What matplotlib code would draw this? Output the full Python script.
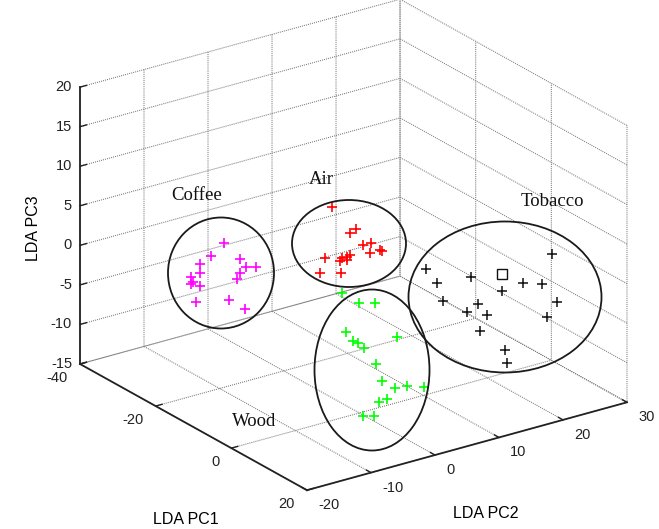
import matplotlib
matplotlib.use("Agg")
import matplotlib.pyplot as plt
from matplotlib.patches import Ellipse
from matplotlib.ticker import NullFormatter
from mpl_toolkits.mplot3d import proj3d

# ---------------- data ----------------
coffee_pc1 = [-30] * 16
coffee_pc2 = [-3.4, -5.4, -0.9, -7.2, 0.0, 1.6, -7.2, -0.9, -8.6, -1.4, -8.3, -8.6, -7.2, -7.8, -2.6, -0.1]
coffee_pc3 = [-0.75, -1.9, -3.3, -2.6, -4.5, -4.9, -3.7, -5.1, -3.9, -5.75, -4.6, -4.8, -5.35, -7.2, -8.1, -9.8]

air_pc1 = [-20] * 16
air_pc2 = [7.55, 11.3, 10.4, 12.4, 13.65, 15.05, 13.5, 15.4, 6.5, 9.1, 9.9, 10.4, 8.8, 5.7, 9.0, 9.9]
air_pc3 = [4.0, 0.4, 0.1, -1.9, -1.9, -3.0, -3.1, -3.3, -2.2, -2.8, -2.8, -2.7, -3.1, -3.9, -4.6, -3.2]

tobacco_pc1 = [5] * 16
tobacco_pc2 = [7.5, 14.5, 9.2, 19.3, 22.6, 25.6, 27.2, 10.1, 15.6, 27.9, 13.9, 17.0, 26.4, 15.9, 19.8, 20.1]
tobacco_pc3 = [2.8, 0.3, 0.7, -2.5, -2.2, -3.1, 0.35, -1.7, -3.3, -5.8, -4.0, -5.1, -7.4, -6.9, -10.1, -11.85]

unknown_pc1 = [5]
unknown_pc2 = [19.3]
unknown_pc3 = [-0.4]

wood_pc1 = [5] * 17
wood_pc2 = [-5.7, -3.0, -0.5, -5.0, -3.9, -3.2, -2.2, 2.9, -0.3, 0.6, 2.6, 4.5, 7.2, 0.1, 1.4, -2.4, -0.7]
wood_pc3 = [2.7, 0.9, 0.3, -2.3, -3.7, -4.15, -5.0, -4.75, -7.4, -9.7, -11.1, -11.3, -12.0, -12.3, -12.2, -13.55, -13.9]

pc1_ticks = [-40, -20, 0, 20]
pc2_ticks = [-20, -10, 0, 10, 20, 30]
pc3_ticks = [-15, -10, -5, 0, 5, 10, 15, 20]

cluster_names = ["Coffee", "Air", "Tobacco", "Wood"]

# ---------------- figure ----------------
plt.rcParams["font.family"] = ["Liberation Sans", "DejaVu Sans"]
plt.rcParams["axes.unicode_minus"] = False
W, H = 659, 529
fig = plt.figure(figsize=(W / 100, H / 100), dpi=100)
fig.patch.set_facecolor("white")

ax = fig.add_axes([0, 0, 1, 1], projection="3d")
ax.set_proj_type("ortho")
ax.view_init(elev=23.0, azim=-35.1)
ax.set_box_aspect((1, 0.991, 0.762))
ax.set_xlim(-40, 20)
ax.set_ylim(-20, 30)
ax.set_zlim(-15, 20)
ax.set_xticks(pc1_ticks)
ax.set_yticks(pc2_ticks)
ax.set_zticks(pc3_ticks)
ax.zaxis.set_ticks_position("lower")
ax.zaxis.set_label_position("lower")

for axis in (ax.xaxis, ax.yaxis, ax.zaxis):
    axis.set_major_formatter(NullFormatter())
    axis.set_pane_color((1, 1, 1, 0))
    axis.pane.set_edgecolor((1, 1, 1, 0))
    axis._axinfo["grid"].update(color="#7a7a7a", linestyle=(0, (1.0, 1.0)), linewidth=0.75)
    axis._axinfo["tick"].update(inward_factor=0.0, outward_factor=0.25)
    axis._axinfo["tick"]["linewidth"] = {True: 1.0, False: 0.6}
    axis.line.set_color("#222222")
    axis.line.set_linewidth(1.3)
    for t in axis.get_major_ticks():
        t.tick1line.set_color("#222222")
        t.label1.set_visible(False)
        t.label2.set_visible(False)

# markers
ax.plot(coffee_pc1, coffee_pc2, coffee_pc3, "+", color="#ff00ff", ms=7.5, mew=1.2)
ax.plot(air_pc1, air_pc2, air_pc3, "+", color="#ff0000", ms=7.5, mew=1.2)
ax.plot(wood_pc1, wood_pc2, wood_pc3, "+", color="#00ff00", ms=7.5, mew=1.2)
ax.plot(tobacco_pc1, tobacco_pc2, tobacco_pc3, "+", color="#111111", ms=7.5, mew=1.1)
ax.plot(unknown_pc1, unknown_pc2, unknown_pc3, "s", mfc="none", mec="#111111", ms=7, mew=1.0)

# --- fit the projected box to the layout of the reference ---
fig.canvas.draw()


def to_px(x, y, z):
    xs, ys, _ = proj3d.proj_transform(x, y, z, ax.M)
    return ax.transData.transform((xs, ys))


A = to_px(-40, -20, -15)
C = to_px(20, 30, -15)
A_t = (80.0, H - 364.0)
C_t = (627.0, H - 402.0)
k = (C_t[0] - A_t[0]) / (C[0] - A[0])
bb = ax.get_position().transformed(fig.transFigure)
s0 = bb.width
c0 = ((bb.x0 + bb.x1) / 2, (bb.y0 + bb.y1) / 2)
s = k * s0
cx = A_t[0] - k * (A[0] - c0[0])
cy = A_t[1] - k * (A[1] - c0[1])
ax.set_position([(cx - s / 2) / W, (cy - s / 2) / H, s / W, s / H])
fig.canvas.draw()
for axis in (ax.xaxis, ax.yaxis, ax.zaxis):
    for t in axis.get_major_ticks():
        t.label1.set_visible(False)
        t.label2.set_visible(False)

# ---------------- 2D overlay: ellipses, tick labels and texts ----------------
ov = fig.add_axes([0, 0, 1, 1])
ov.set_xlim(0, W)
ov.set_ylim(H, 0)
ov.axis("off")
ov.patch.set_alpha(0)


def screen(x, y, z):
    X, Y = to_px(x, y, z)
    return X, H - Y


tick_font = dict(fontsize=10.5, color="#222222", va="center")
for t in pc1_ticks:
    X, Y = screen(t, -20, -15)
    ov.text(X - 12, Y + 13.5, str(t), ha="right", **tick_font)
for t in pc2_ticks:
    X, Y = screen(20, t, -15)
    ov.text(X + 11, Y + 15, str(t), ha="left", **tick_font)
for t in pc3_ticks:
    X, Y = screen(-40, -20, t)
    ov.text(X - 8, Y, str(t), ha="right", **tick_font)

ellipses = [((221, 273), 106, 111), ((349, 243.5), 114, 87), ((505, 297), 193, 151), ((372, 370), 115, 161)]
for (c, w, h) in ellipses:
    ov.add_patch(Ellipse(c, w, h, fill=False, ec="#1a1a1a", lw=1.3))

label_pos = [(197, 195), (321, 180), (552, 201), (254, 421)]
for name, (x, y) in zip(cluster_names, label_pos):
    ov.text(x, y, name, ha="center", va="center", fontsize=13.5,
            family=["Liberation Serif", "DejaVu Serif"], color="#111111")

ov.text(186, 519, "LDA PC1", ha="center", va="center", fontsize=11.5)
ov.text(486, 514, "LDA PC2", ha="center", va="center", fontsize=11.5)
ov.text(33, 228, "LDA PC3", ha="center", va="center", fontsize=11.5, rotation=90)

fig.savefig("out.png", dpi=100, facecolor="white")
